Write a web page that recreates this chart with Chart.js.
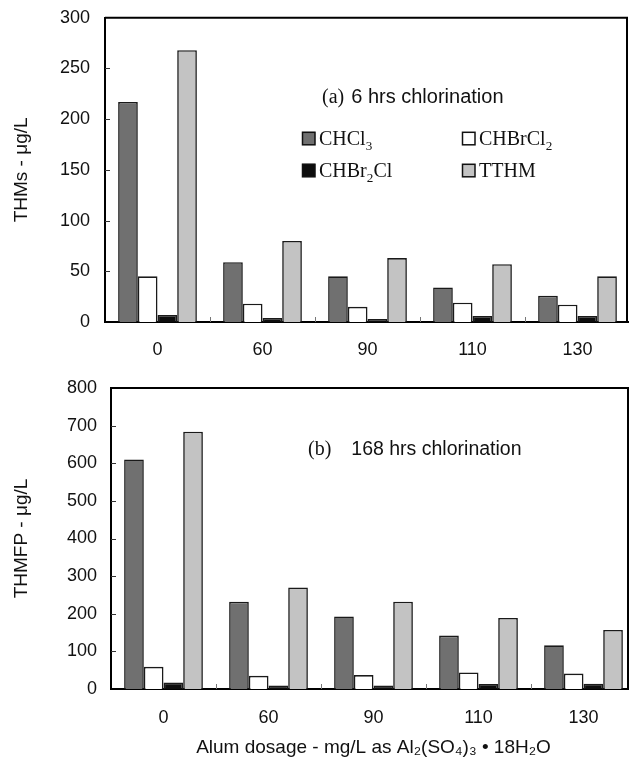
<!DOCTYPE html>
<html><head><meta charset="utf-8">
<script src="https://cdn.jsdelivr.net/npm/chart.js@4.4.1/dist/chart.umd.min.js"></script>
<style>
html,body{margin:0;padding:0;background:#fff;overflow:hidden;width:629px;height:761px;}
#w1{position:absolute;left:0;top:0;width:640px;height:365px;}
#w2{position:absolute;left:0;top:365px;width:640px;height:396px;}
canvas{display:block;}
</style></head><body>
<div id="w1"><canvas id="c1" width="640" height="365"></canvas></div>
<div id="w2"><canvas id="c2" width="640" height="396"></canvas></div>
<script>
// ---- data ----
const categories = ['0', '60', '90', '110', '130'];
const seriesLabels = ['CHCl₃', 'CHBrCl₂', 'CHBr₂Cl', 'TTHM'];
const seriesMarkup = ['CHCl_3', 'CHBrCl_2', 'CHBr_2Cl', 'TTHM'];
const thm6h_CHCl3   = [217, 59, 45, 34, 26];
const thm6h_CHBrCl2 = [45, 18, 15, 19, 17];
const thm6h_CHBr2Cl = [7, 4, 3, 6, 6];
const thm6h_TTHM    = [268, 80, 63, 57, 45];
const fp168h_CHCl3   = [610, 232, 193, 142, 116];
const fp168h_CHBrCl2 = [59, 35, 37, 44, 41];
const fp168h_CHBr2Cl = [17, 9, 9, 13, 14];
const fp168h_TTHM    = [684, 270, 232, 189, 157];
const yTicksTop = [0, 50, 100, 150, 200, 250, 300];
const yTicksBottom = [0, 100, 200, 300, 400, 500, 600, 700, 800];

// ---- styles ----
const fills = ['#707070', '#ffffff', '#0d0d0d', '#c3c3c3'];
const SANS = '"Liberation Sans", Arial, sans-serif';
const SERIF = '"Liberation Serif", "Times New Roman", serif';

function makeDatasets(arrs) {
  return arrs.map((d, i) => ({
    label: seriesLabels[i],
    markup: seriesMarkup[i],
    data: d,
    backgroundColor: fills[i],
    borderColor: '#1a1a1a',
    borderWidth: 1.6,
    categoryPercentage: 0.75,
    barPercentage: 1.0
  }));
}

function drawRich(ctx, str, x, y, size, family) {
  let cx = x;
  const runs = [];
  let cur = '';
  for (let i = 0; i < str.length; i++) {
    if (str[i] === '_') { if (cur) runs.push({t: cur, sub: false}); cur = ''; i++; runs.push({t: str[i], sub: true}); }
    else cur += str[i];
  }
  if (cur) runs.push({t: cur, sub: false});
  runs.forEach(r => {
    const s = r.sub ? size * 0.66 : size;
    ctx.font = s + 'px ' + family;
    ctx.fillText(r.t, cx, r.sub ? y + size * 0.22 : y);
    cx += ctx.measureText(r.t).width;
  });
}

const decorPlugin = {
  id: 'decor',
  afterDatasetsDraw(chart, args, opts) {
    const ctx = chart.ctx, a = chart.chartArea;
    const xs = chart.scales.x, ys = chart.scales.y;
    ctx.save();
    // inward ticks
    ctx.strokeStyle = '#333'; ctx.lineWidth = 1;
    ys.ticks.forEach(t => {
      if (t.value === ys.min || t.value === ys.max) return;
      const py = Math.round(ys.getPixelForValue(t.value)) + 0.5;
      ctx.beginPath(); ctx.moveTo(a.left, py); ctx.lineTo(a.left + 5, py); ctx.stroke();
    });
    ctx.strokeStyle = '#777';
    for (let i = 0; i < categories.length - 1; i++) {
      const px = Math.round((xs.getPixelForValue(i) + xs.getPixelForValue(i + 1)) / 2) + 0.5;
      ctx.beginPath(); ctx.moveTo(px, a.bottom); ctx.lineTo(px, a.bottom - 5); ctx.stroke();
    }
    // frame top and right
    const fr = Math.min(a.right, opts.frameRight);
    ctx.strokeStyle = '#000'; ctx.lineWidth = 2;
    ctx.beginPath(); ctx.moveTo(a.left, a.top); ctx.lineTo(fr, a.top); ctx.lineTo(fr, a.bottom); ctx.stroke();
    // annotation title
    ctx.fillStyle = '#111'; ctx.textBaseline = 'middle'; ctx.textAlign = 'left';
    const tx = a.left + opts.titleDx, ty = a.top + opts.titleDy;
    ctx.font = '20px ' + SERIF;
    ctx.fillText(opts.tag, tx, ty);
    const w = ctx.measureText(opts.tag).width;
    ctx.font = opts.titleSize + 'px ' + SANS;
    ctx.fillText(opts.title, tx + w + opts.titleGap, ty);
    // legend
    if (opts.legend) {
      const lx = a.left + opts.legendDx, ly = a.top + opts.legendDy;
      chart.data.datasets.forEach((ds, i) => {
        const col = i % 2, row = Math.floor(i / 2);
        const bx = lx + col * 160, by = ly + row * 32;
        ctx.fillStyle = ds.backgroundColor;
        ctx.fillRect(bx, by, 13, 13);
        ctx.strokeStyle = '#111'; ctx.lineWidth = 1.5;
        ctx.strokeRect(bx + 0.5, by + 0.5, 12.5, 12.5);
        ctx.fillStyle = '#111'; ctx.textBaseline = 'alphabetic';
        drawRich(ctx, ds.markup, bx + 17, by + 13.5, 20, SERIF);
      });
    }
    ctx.restore();
  }
};

function makeChart(id, arrs, yTicks, yMax, yTitle, cfg) {
  return new Chart(document.getElementById(id), {
    type: 'bar',
    data: { labels: categories, datasets: makeDatasets(arrs) },
    options: {
      responsive: false,
      animation: false,
      devicePixelRatio: 1,
      layout: { padding: { top: cfg.padTop, right: cfg.padRight, left: 0, bottom: 0 } },
      plugins: {
        legend: { display: false },
        tooltip: { enabled: false },
        decor: cfg.decor
      },
      scales: {
        x: {
          grid: { display: false },
          border: { display: true, color: '#000', width: 2 },
          ticks: { color: '#111', font: { family: SANS, size: 18 }, padding: cfg.xPad, maxRotation: 0 },
          title: cfg.xTitle ? { display: true, text: cfg.xTitle, color: '#111', font: { family: SANS, size: 19 }, padding: { top: 0, bottom: 2 } } : { display: false },
          afterFit: s => { s.height = cfg.xHeight; }
        },
        y: {
          min: 0, max: yMax,
          grid: { display: false },
          border: { display: true, color: '#000', width: 2 },
          ticks: { color: '#111', font: { family: SANS, size: 18 }, padding: cfg.yPad },
          afterBuildTicks: s => { s.ticks = yTicks.map(v => ({ value: v })); },
          title: { display: true, text: yTitle, color: '#111', font: { family: SANS, size: 19 }, padding: { top: 10, bottom: 0 } },
          afterFit: s => { s.width = cfg.yWidth; }
        }
      }
    },
    plugins: [decorPlugin]
  });
}

makeChart('c1', [thm6h_CHCl3, thm6h_CHBrCl2, thm6h_CHBr2Cl, thm6h_TTHM], yTicksTop, 300, 'THMs - μg/L', {
  padTop: 17, padRight: 10, xHeight: 43, yWidth: 105, xPad: 9, yPad: 7,
  decor: { frameRight: 627, tag: '(a)', title: '6 hrs chlorination', titleSize: 20, titleGap: 7, titleDx: 217, titleDy: 80,
           legend: true, legendDx: 197, legendDy: 114 }
});

makeChart('c2', [fp168h_CHCl3, fp168h_CHBrCl2, fp168h_CHBr2Cl, fp168h_TTHM], yTicksBottom, 800, 'THMFP - μg/L', {
  padTop: 23, padRight: 4, xHeight: 72, yWidth: 111, xPad: 10, yPad: 6,
  xTitle: 'Alum dosage - mg/L as Al₂(SO₄)₃ • 18H₂O',
  decor: { frameRight: 628, tag: '(b)', title: '168 hrs chlorination', titleSize: 19.5, titleGap: 20, titleDx: 197, titleDy: 62,
           legend: false }
});
</script>
</body></html>
